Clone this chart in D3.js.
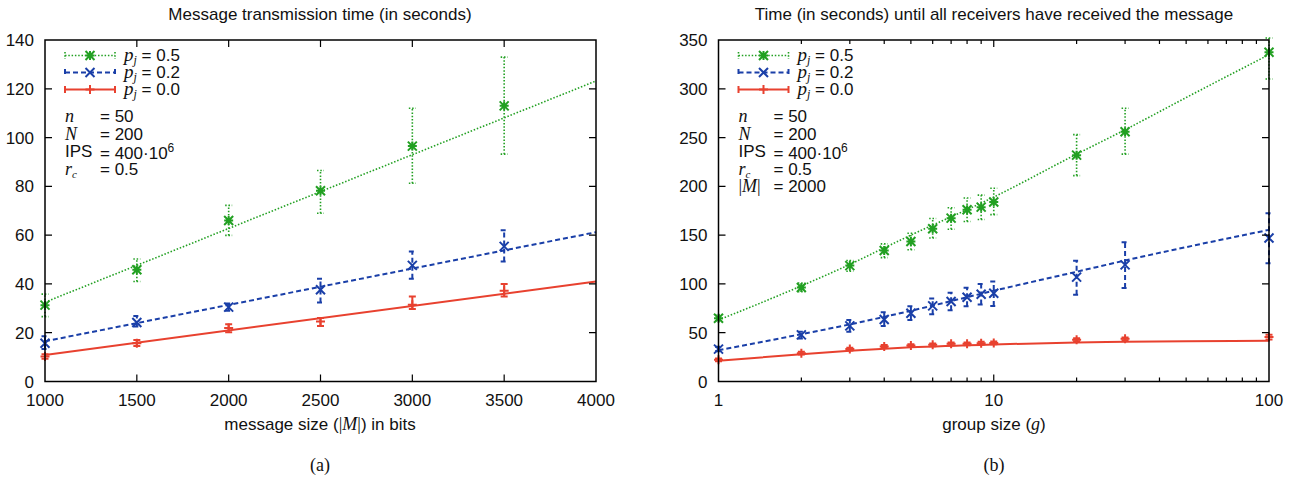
<!DOCTYPE html>
<html><head><meta charset="utf-8">
<script src="https://cdn.jsdelivr.net/npm/d3@7"></script>
<style>
body{margin:0;background:#fff;}
text{font-family:"Liberation Sans",Arial,sans-serif;fill:#111;}
.it{font-family:"Liberation Serif","Times New Roman",serif;font-style:italic;}
.serif{font-family:"Liberation Serif","Times New Roman",serif;}
</style></head>
<body><svg id="c" width="1302" height="478"></svg>
<script>
// ---------- data: chart (a) ----------
const msgSize = [1000, 1500, 2000, 2500, 3000, 3500];
const a05 = [31.3, 45.8, 66.0, 78.2, 96.5, 113.0];
const a05lo = [26.6, 41.0, 59.9, 69.0, 81.3, 93.2];
const a05hi = [35.8, 50.2, 72.2, 86.5, 112.0, 133.0];
const a02 = [15.7, 24.2, 30.5, 37.6, 47.6, 55.4];
const a02lo = [13.3, 22.5, 29.0, 32.4, 42.1, 49.2];
const a02hi = [18.5, 26.9, 32.0, 42.1, 53.3, 62.0];
const a00 = [10.3, 15.7, 21.9, 24.6, 31.5, 37.2];
const a00lo = [9.3, 14.6, 20.2, 22.8, 29.7, 34.8];
const a00hi = [11.2, 17.0, 23.5, 26.0, 34.8, 40.0];
const aFitX = [1000, 4000];
const aFit05 = [32.5, 123.2];
const aFit02 = [16.5, 61.2];
const aFit00 = [10.9, 41.0];
const aXTicks = [1000, 1500, 2000, 2500, 3000, 3500, 4000];
const aYTicks = [0, 20, 40, 60, 80, 100, 120, 140];

// ---------- data: chart (b) ----------
const groupSize = [1, 2, 3, 4, 5, 6, 7, 8, 9, 10, 20, 30, 100];
const b05 = [64.9, 96.3, 118.8, 134.2, 143.5, 156.5, 167.4, 176.0, 178.7, 184.0, 232.0, 256.0, 337.5];
const b05lo = [62, 92, 113, 127, 135, 147, 156, 164, 166, 171, 211, 233, 310];
const b05hi = [68, 101, 124, 141, 152, 167, 178, 188, 191, 198, 253, 280, 352];
const b02 = [33.2, 47.8, 57.0, 63.5, 70.0, 77.5, 82.0, 86.4, 89.5, 90.5, 107.0, 119.5, 147.0];
const b02lo = [31.0, 44.0, 51.0, 57.0, 63.0, 69.0, 73.0, 77.0, 79.0, 77.5, 88.8, 95.7, 121.3];
const b02hi = [35.5, 51.0, 63.0, 71.0, 77.0, 85.0, 91.0, 96.0, 100.0, 102.4, 123.7, 142.8, 172.5];
const b00 = [22.2, 29.0, 33.2, 35.9, 36.9, 37.6, 38.6, 38.6, 39.3, 39.5, 42.7, 43.7, 45.5];
const b00lo = [20.8, 27.6, 31.8, 34.5, 35.5, 36.2, 37.2, 37.2, 37.9, 38.1, 41.2, 42.2, 43.0];
const b00hi = [23.6, 30.4, 34.6, 37.3, 38.3, 39.0, 40.0, 40.0, 40.7, 40.9, 44.2, 45.2, 48.0];
const bFit05X = [1, 2, 3, 4, 5, 10, 20, 30, 50, 100];
const bFit05 = [63, 98, 120, 137, 150, 189, 233, 258, 291, 335];
const bFit02X = [1, 2, 3, 5, 10, 20, 30, 100];
const bFit02 = [32, 48.5, 58.5, 72.5, 93, 112.5, 124, 155.4];
const bFit00X = [1, 2, 3, 5, 10, 20, 30, 50, 100];
const bFit00 = [21.2, 28, 31.5, 35, 38, 40, 40.7, 41.2, 41.7];
const bXTicks = [1, 10, 100];
const bXMinor = [2,3,4,5,6,7,8,9,20,30,40,50,60,70,80,90];
const bYTicks = [0, 50, 100, 150, 200, 250, 300, 350];

const seriesLabels = ["0.5", "0.2", "0.0"];
const colors = ["#22a022", "#1a3fa8", "#e8412f"];

const svg = d3.select("#c");

function marker(g, type, x, y, color) {
  const s = 4.5;
  const p = g.append("path").attr("fill", "none").attr("stroke", color).attr("stroke-width", 2);
  let d = "";
  if (type === "plus" || type === "star") d += `M${x-s},${y}H${x+s}M${x},${y-s}V${y+s}`;
  if (type === "x" || type === "star") d += `M${x-s},${y-s}L${x+s},${y+s}M${x-s},${y+s}L${x+s},${y-s}`;
  p.attr("d", d);
}

const styles = [
  {dash: "1.5,1.8", width: 1.6, mk: "star"},
  {dash: "5,3", width: 2, mk: "x"},
  {dash: null, width: 2, mk: "plus"}
];

function drawChart(cfg) {
  const g = svg.append("g");
  const {x, y} = cfg;
  const [x0, x1] = x.range(), [y0, y1] = y.range();
  cfg.series.forEach((s, i) => {
    const st = styles[i];
    const col = colors[i];
    const line = d3.line().x(d => x(d[0])).y(d => y(d[1]));
    if (cfg.curve) line.curve(cfg.curve);
    const fitPts = s.fitX.map((v, k) => [v, s.fit[k]]);
    g.append("path").attr("d", line(fitPts)).attr("fill", "none")
      .attr("stroke", col).attr("stroke-width", st.width)
      .attr("stroke-dasharray", st.dash);
    s.xs.forEach((xv, k) => {
      const px = x(xv);
      const lo = y(s.lo[k]), hi = y(s.hi[k]);
      g.append("path").attr("d", `M${px},${lo}V${hi}M${px-3.5},${lo}H${px+3.5}M${px-3.5},${hi}H${px+3.5}`)
        .attr("fill", "none").attr("stroke", col).attr("stroke-width", st.width)
        .attr("stroke-dasharray", st.dash);
      marker(g, st.mk, px, y(s.vals[k]), col);
    });
  });
  g.append("rect").attr("x", x0).attr("y", y1).attr("width", x1 - x0).attr("height", y0 - y1)
    .attr("fill", "none").attr("stroke", "#000").attr("stroke-width", 1.5);
  cfg.yTicks.forEach(t => {
    const py = y(t);
    if (t !== cfg.yTicks[0] && t !== cfg.yTicks[cfg.yTicks.length-1]) {
      g.append("path").attr("d", `M${x0},${py}h7M${x1},${py}h-7`).attr("stroke", "#000").attr("stroke-width", 1.2);
    }
    g.append("text").attr("x", x0 - 11).attr("y", py + 6).attr("text-anchor", "end")
      .style("font-size", "17px").text(t);
  });
  cfg.xTicks.forEach(t => {
    const px = x(t);
    if (t !== cfg.xTicks[0] && t !== cfg.xTicks[cfg.xTicks.length-1]) {
      g.append("path").attr("d", `M${px},${y0}v-7M${px},${y1}v7`).attr("stroke", "#000").attr("stroke-width", 1.2);
    }
    g.append("text").attr("x", px).attr("y", y0 + 24).attr("text-anchor", "middle")
      .style("font-size", "17px").text(t);
  });
  (cfg.xMinor || []).forEach(t => {
    const px = x(t);
    g.append("path").attr("d", `M${px},${y0}v-4M${px},${y1}v4`).attr("stroke", "#000").attr("stroke-width", 1.2);
  });
  g.append("text").attr("x", cfg.cx).attr("y", 20).attr("text-anchor", "middle")
    .style("font-size", "17px").text(cfg.title);
  const xl = g.append("text").attr("x", cfg.cx).attr("y", 429.5).attr("text-anchor", "middle").style("font-size", "17px");
  cfg.xLabel(xl);
  g.append("text").attr("class", "serif").attr("x", cfg.cx).attr("y", 471).attr("text-anchor", "middle")
    .style("font-size", "18px").text(cfg.sub);
  const lx = x0 + 20;
  const legY = [55.5, 72.5, 89.5];
  seriesLabels.forEach((lab, i) => {
    const st = styles[i], col = colors[i];
    const ly = legY[i];
    g.append("path").attr("d", `M${lx},${ly}H${lx+50}M${lx},${ly-3.5}V${ly+3.5}M${lx+50},${ly-3.5}V${ly+3.5}`)
      .attr("fill", "none").attr("stroke", col).attr("stroke-width", st.width).attr("stroke-dasharray", st.dash);
    marker(g, st.mk, lx + 25, ly, col);
    const t = g.append("text").attr("x", lx + 59).attr("y", ly + 5.5).style("font-size", "17px");
    t.append("tspan").attr("class", "it").style("font-size", "19px").text("p");
    t.append("tspan").attr("class", "it").style("font-size", "12px").attr("dy", 3).text("j");
    t.append("tspan").attr("dy", -3).text(" = " + lab);
  });
  const ex = lx + cfg.eqOff;
  cfg.params.forEach((p, k) => {
    const by = 122 + k * 17.5;
    const t = g.append("text").attr("x", lx).attr("y", by).style("font-size", "17px");
    p.name(t);
    const v = g.append("text").attr("x", ex).attr("y", by + (p.low ? 2 : 0)).style("font-size", "17px");
    v.append("tspan").text("= " + p.value);
    if (p.sup) v.append("tspan").attr("dy", -7).style("font-size", "12px").text(p.sup);
  });
}

const nameN = t => t.append("tspan").attr("class", "it").style("font-size", "18px").text("n");
const nameBigN = t => t.append("tspan").attr("class", "it").style("font-size", "18px").text("N");
const nameIPS = t => t.text("IPS");
const nameRc = t => { t.append("tspan").attr("class", "it").style("font-size", "18px").text("r");
  t.append("tspan").attr("class", "it").style("font-size", "11px").attr("dy", 3).text("c"); };
const nameM = t => { t.append("tspan").attr("class", "serif").style("font-size", "18px").text("|");
  t.append("tspan").attr("class", "it").style("font-size", "18px").text("M");
  t.append("tspan").attr("class", "serif").style("font-size", "18px").text("|"); };

const paramsA = [
  {name: nameN, value: "50"}, {name: nameBigN, value: "200"},
  {name: nameIPS, value: "400·10", sup: "6", low: true}, {name: nameRc, value: "0.5"}
];
const paramsB = paramsA.concat([{name: nameM, value: "2000"}]);

const xA = d3.scaleLinear().domain([1000, 4000]).range([45, 596]);
const yA = d3.scaleLinear().domain([0, 140]).range([381.5, 40]);
drawChart({
  x: xA, y: yA, xTicks: aXTicks, yTicks: aYTicks, cx: 320,
  title: "Message transmission time (in seconds)",
  xLabel: t => { t.append("tspan").text("message size ("); t.append("tspan").attr("class","serif").style("font-size","18px").text("|");
    t.append("tspan").attr("class","it").style("font-size","18px").text("M"); t.append("tspan").attr("class","serif").style("font-size","18px").text("|");
    t.append("tspan").text(") in bits"); },
  sub: "(a)", eqOff: 35, params: paramsA,
  series: [
    {xs: msgSize, vals: a05, lo: a05lo, hi: a05hi, fitX: aFitX, fit: aFit05},
    {xs: msgSize, vals: a02, lo: a02lo, hi: a02hi, fitX: aFitX, fit: aFit02},
    {xs: msgSize, vals: a00, lo: a00lo, hi: a00hi, fitX: aFitX, fit: aFit00}
  ]
});

const xB = d3.scaleLog().domain([1, 100]).range([718.5, 1269]);
const yB = d3.scaleLinear().domain([0, 350]).range([381.5, 40]);
drawChart({
  x: xB, y: yB, xTicks: bXTicks, xMinor: bXMinor, yTicks: bYTicks, cx: 994, curve: d3.curveMonotoneX,
  title: "Time (in seconds) until all receivers have received the message",
  xLabel: t => { t.append("tspan").text("group size ("); t.append("tspan").attr("class","it").style("font-size","18px").text("g"); t.append("tspan").text(")"); },
  sub: "(b)", eqOff: 35, params: paramsB,
  series: [
    {xs: groupSize, vals: b05, lo: b05lo, hi: b05hi, fitX: bFit05X, fit: bFit05},
    {xs: groupSize, vals: b02, lo: b02lo, hi: b02hi, fitX: bFit02X, fit: bFit02},
    {xs: groupSize, vals: b00, lo: b00lo, hi: b00hi, fitX: bFit00X, fit: bFit00}
  ]
});
</script></body></html>
